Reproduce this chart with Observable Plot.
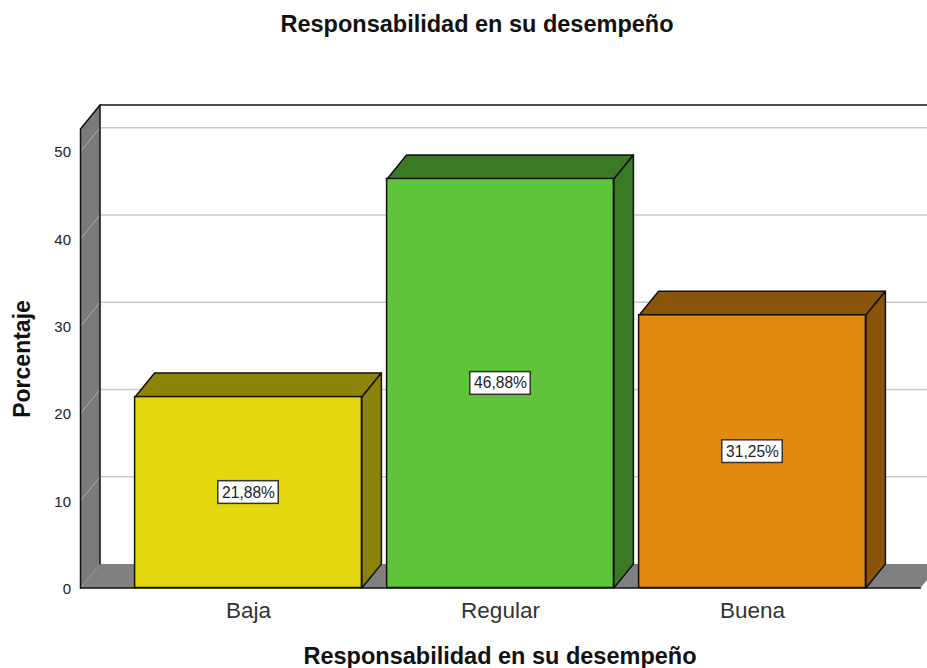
<!DOCTYPE html>
<html>
<head>
<meta charset="utf-8">
<script src="https://cdn.jsdelivr.net/npm/d3@7"></script>
<script src="https://cdn.jsdelivr.net/npm/@observablehq/plot@0.6"></script>
<style>
html,body{margin:0;padding:0;background:#fff;overflow:hidden}
svg{display:block;font-family:"Liberation Sans",Arial,sans-serif}
</style>
</head>
<body>
<div id="chart"></div>
<script>
const chartTitle = "Responsabilidad en su desempeño";
const yTitle = "Porcentaje";
const categories = ["Baja", "Regular", "Buena"];
const percentages = [21.88, 46.88, 31.25];
const valueLabels = ["21,88%", "46,88%", "31,25%"];
const frontColors = ["#e3d80e", "#5ec439", "#e08a10"];
const shadeColors = ["#8c8408", "#3b7a25", "#8a550a"];
const yTicks = [0, 10, 20, 30, 40, 50];

// Chart-space constants (category-index units, percent units)
const xMin = -2 / 3, xMax = 2 + 2 / 3;
const yMaxFront = 52.6;
const depthX = 0.0774, depthY = 2.75;
const halfBar = 0.45;
const wallGrey = "#7a7a7a", floorGrey = "#808080", gridGrey = "#c9c9c9", ink = "#111";

const poly = (id, fill, pts) => pts.map(([x, y]) => ({id, fill, x, y}));

const walls = [
  ...poly("left", wallGrey, [[xMin, 0], [xMin, yMaxFront], [xMin + depthX, yMaxFront + depthY], [xMin + depthX, depthY], [xMin, 0]]),
  ...poly("floor", floorGrey, [[xMin, 0], [xMin + depthX, depthY], [xMax + depthX, depthY], [xMax, 0], [xMin, 0]])
];

const barFaces = categories.flatMap((c, i) => {
  const v = percentages[i], l = i - halfBar, r = i + halfBar;
  return [
    ...poly(c + "-top", shadeColors[i], [[l, v], [l + depthX, v + depthY], [r + depthX, v + depthY], [r, v], [l, v]]),
    ...poly(c + "-side", shadeColors[i], [[r, 0], [r, v], [r + depthX, v + depthY], [r + depthX, depthY], [r, 0]])
  ];
});
const bars = categories.map((c, i) => ({c, x1: i - halfBar, x2: i + halfBar, y: percentages[i], fill: frontColors[i]}));
const boxes = categories.map((c, i) => ({i, y: percentages[i] / 2, label: valueLabels[i]}));

const gridBack = yTicks.filter(t => t > 0).flatMap(t => [
  {t, x: xMin + depthX, y: t + depthY}, {t, x: xMax + 2 * depthX, y: t + depthY}
]);
const gridSide = yTicks.filter(t => t > 0).flatMap(t => [
  {t, x: xMin, y: t}, {t, x: xMin + depthX, y: t + depthY}
]);

const edges = [
  ...poly("e1", "none", [[xMin, 0], [xMin, yMaxFront], [xMin + depthX, yMaxFront + depthY], [xMax + 2 * depthX, yMaxFront + depthY]]),
  ...poly("e2", "none", [[xMin + depthX, yMaxFront + depthY], [xMin + depthX, depthY]]),
  ...poly("e3", "none", [[xMin, 0], [xMax, 0]])
];

const plot = Plot.plot({
  width: 927,
  height: 668,
  marginLeft: 80,
  marginRight: 7,
  marginTop: 104.5,
  marginBottom: 80.5,
  x: {domain: [xMin, xMax], range: [80, 920]},
  y: {domain: [0, yMaxFront + depthY]},
  style: {background: "#fff", fontFamily: '"Liberation Sans", Arial, sans-serif'},
  marks: [
    Plot.line(walls, {x: "x", y: "y", z: "id", fill: "fill", stroke: "none"}),
    Plot.line(gridBack, {x: "x", y: "y", z: "t", stroke: gridGrey, strokeWidth: 1.5}),
    Plot.line(gridSide, {x: "x", y: "y", z: "t", stroke: "#b0b0b0", strokeWidth: 1}),
    Plot.line(edges, {x: "x", y: "y", z: "id", stroke: ink, strokeWidth: 1.5}),
    Plot.line(barFaces, {x: "x", y: "y", z: "id", fill: "fill", stroke: ink, strokeWidth: 1.5}),
    Plot.rect(bars, {x1: "x1", x2: "x2", y1: 0, y2: "y", fill: "fill", stroke: ink, strokeWidth: 1.5}),
    Plot.rect(boxes, {x1: d => d.i - 0.12, x2: d => d.i + 0.12, y1: d => d.y - 1.3, y2: d => d.y + 1.3, fill: "#fff", stroke: "#333", strokeWidth: 1.5}),
    Plot.text(boxes, {x: "i", y: "y", text: "label", fontSize: 15.6, fill: "#222"}),
    Plot.axisY({ticks: yTicks, tickSize: 0, tickPadding: 9.5, dy: 1, fontSize: 15, color: "#222", label: null, anchor: "left"}),
    Plot.axisX({ticks: [0, 1, 2], tickFormat: i => categories[i], tickSize: 0, tickPadding: 14, fontSize: 22.5, color: "#333", label: null}),
    Plot.text([chartTitle], {frameAnchor: "top", dx: -23.5, dy: -80.5, text: d => d, fontSize: 23.5, fontWeight: "bold", fill: "#111", lineAnchor: "middle"}),
    Plot.text([chartTitle], {frameAnchor: "bottom", dx: -0.5, dy: 68.5, text: d => d, fontSize: 23.5, fontWeight: "bold", fill: "#111", lineAnchor: "middle"}),
    Plot.text([yTitle], {frameAnchor: "left", textAnchor: "middle", dx: -58, dy: 12.5, text: d => d, fontSize: 23, fontWeight: "bold", fill: "#111", rotate: -90})
  ]
});
document.getElementById("chart").appendChild(plot);
</script>
</body>
</html>
